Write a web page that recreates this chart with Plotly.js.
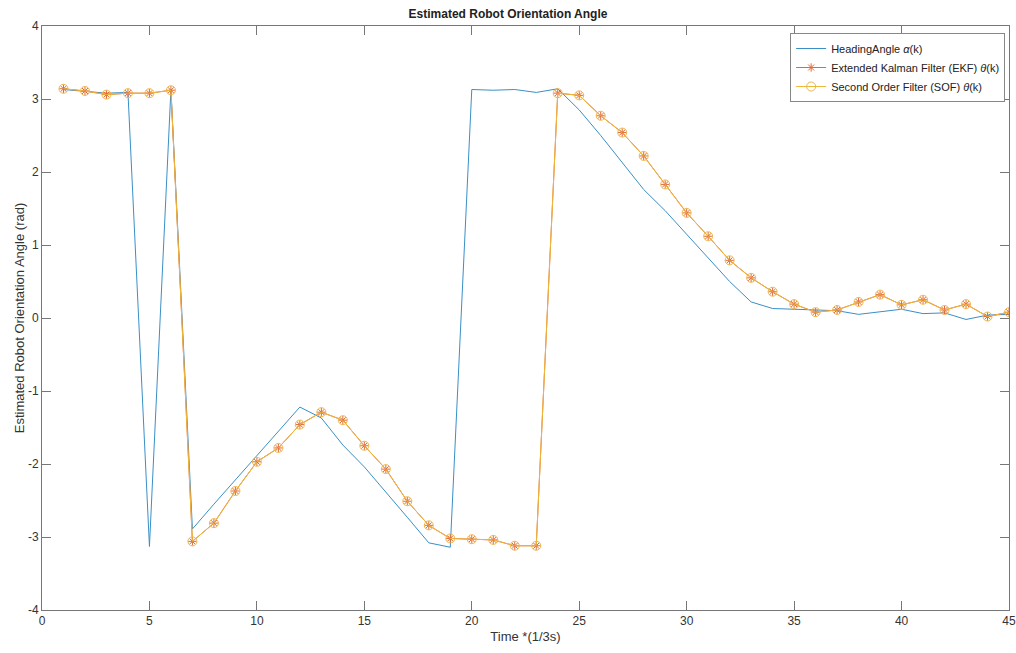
<!DOCTYPE html>
<html>
<head>
<meta charset="utf-8">
<script src="https://cdn.plot.ly/plotly-3.0.1.min.js"></script>
<style>html,body{margin:0;padding:0;background:#fff;}#chart{width:1016px;height:653px;}</style>
</head>
<body>
<div id="chart"></div>
<script>
const timeSteps = [1,2,3,4,5,6,7,8,9,10,11,12,13,14,15,16,17,18,19,20,21,22,23,24,25,26,27,28,29,30,31,32,33,34,35,36,37,38,39,40,41,42,43,44,45];
const headingAngle = [3.13,3.10,3.08,3.09,-3.13,3.13,-2.89,-2.55,-2.22,-1.88,-1.55,-1.22,-1.37,-1.74,-2.04,-2.38,-2.73,-3.08,-3.14,3.13,3.12,3.13,3.09,3.14,2.85,2.50,2.13,1.76,1.47,1.15,0.82,0.50,0.22,0.13,0.12,0.11,0.10,0.05,0.08,0.12,0.06,0.07,-0.02,0.04,0.05];
const ekfTheta = [3.14,3.11,3.06,3.08,3.08,3.12,-3.06,-2.81,-2.37,-1.97,-1.78,-1.46,-1.29,-1.40,-1.75,-2.07,-2.51,-2.84,-3.02,-3.03,-3.04,-3.12,-3.12,3.08,3.05,2.77,2.54,2.22,1.83,1.44,1.12,0.79,0.55,0.36,0.19,0.08,0.11,0.22,0.32,0.18,0.25,0.11,0.19,0.02,0.08];
const sofTheta = [3.14,3.11,3.06,3.08,3.08,3.12,-3.06,-2.81,-2.37,-1.97,-1.78,-1.46,-1.29,-1.40,-1.75,-2.07,-2.51,-2.84,-3.02,-3.03,-3.04,-3.12,-3.12,3.08,3.05,2.77,2.54,2.22,1.83,1.44,1.12,0.79,0.55,0.36,0.19,0.08,0.11,0.22,0.32,0.18,0.25,0.11,0.19,0.02,0.08];
const seriesNames = ['HeadingAngle <i>α</i>(k)', 'Extended Kalman Filter (EKF) <i>θ</i>(k)', 'Second Order Filter (SOF) <i>θ</i>(k)'];
const xTicks = [0,5,10,15,20,25,30,35,40,45];
const yTicks = [-4,-3,-2,-1,0,1,2,3,4];
const yTickLabels = ['-4','-3','-2','-1','0','1','2','3','4'];

const traces = [
  {x: timeSteps, y: headingAngle, name: seriesNames[0], type: 'scatter', mode: 'lines',
   line: {color: '#3a8fc6', width: 1}},
  {x: timeSteps, y: ekfTheta, name: seriesNames[1], type: 'scatter', mode: 'lines+markers',
   line: {color: '#e0683a', width: 1},
   marker: {symbol: 'asterisk-open', size: 7, color: '#e0683a', line: {color: '#e0683a', width: 1}}},
  {x: timeSteps, y: sofTheta, name: seriesNames[2], type: 'scatter', mode: 'lines+markers',
   line: {color: '#eeb83a', width: 1},
   marker: {symbol: 'circle-open', size: 9, color: '#efb54a', line: {color: '#efb54a', width: 1}}}
];

const axisCommon = {
  showgrid: false, zeroline: false, showline: true, mirror: 'ticks',
  linecolor: '#777', linewidth: 1, ticks: 'inside', ticklen: 9, tickcolor: '#777',
  tickfont: {family: 'Liberation Sans, Arial, sans-serif', size: 12, color: '#333'}
};

const layout = {
  width: 1016, height: 653,
  margin: {l: 42, r: 7, t: 26, b: 43},
  paper_bgcolor: '#fff', plot_bgcolor: '#fff',
  title: {text: '<b>Estimated Robot Orientation Angle</b>', x: 0.5, xanchor: 'center', y: 0.985, yanchor: 'top',
          font: {family: 'Liberation Sans, Arial, sans-serif', size: 12, color: '#222'}},
  xaxis: Object.assign({}, axisCommon, {range: [0, 45], tickvals: xTicks,
    title: {text: 'Time *(1/3s)', standoff: 4, font: {family: 'Liberation Sans, Arial, sans-serif', size: 13, color: '#333'}}}),
  yaxis: Object.assign({}, axisCommon, {range: [-4, 4], tickvals: yTicks, ticktext: yTickLabels,
    title: {text: 'Estimated Robot Orientation Angle (rad)', standoff: 0, font: {family: 'Liberation Sans, Arial, sans-serif', size: 13, color: '#333'}}}),
  showlegend: true,
  legend: {x: 0.996, xanchor: 'right', y: 0.988, yanchor: 'top', bgcolor: '#fff',
           bordercolor: '#888', borderwidth: 1, tracegroupgap: 0,
           font: {family: 'Liberation Sans, Arial, sans-serif', size: 11, color: '#222'}}
};

Plotly.newPlot('chart', traces, layout, {displayModeBar: false, staticPlot: true});
</script>
</body>
</html>
